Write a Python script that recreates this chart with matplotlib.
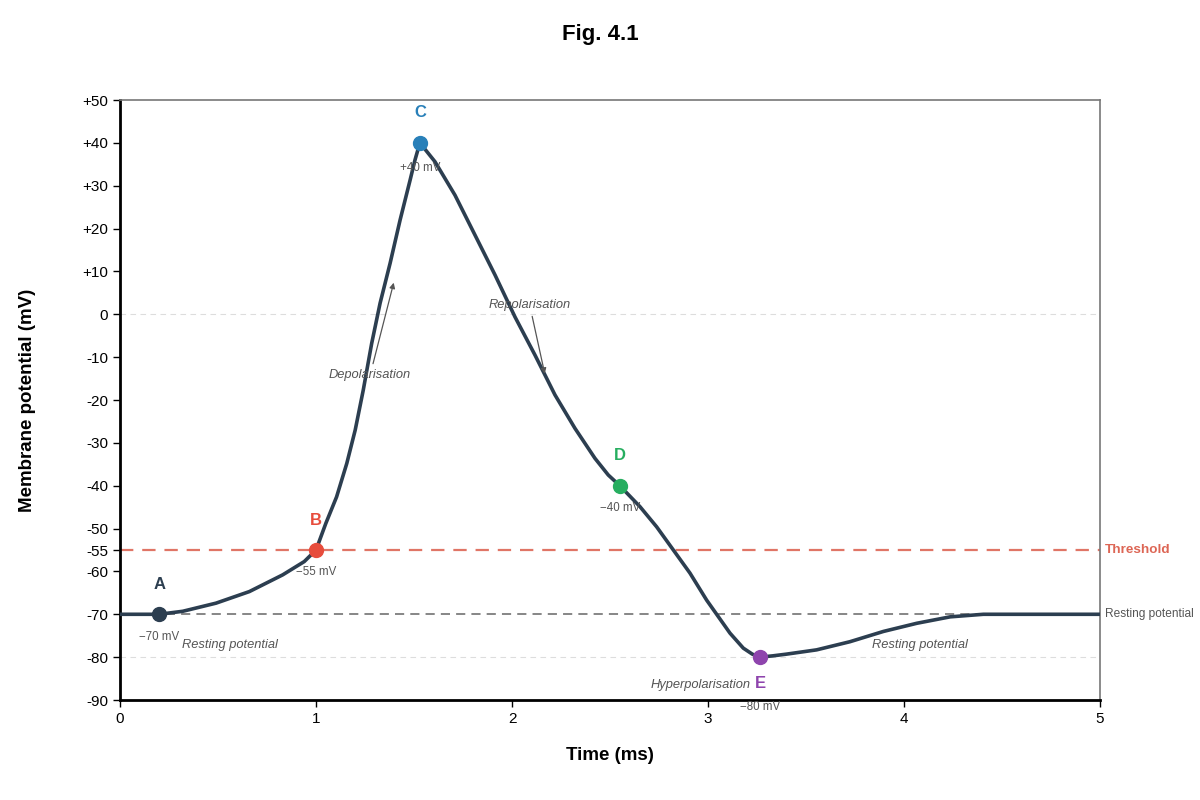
import matplotlib
matplotlib.use('Agg')
from matplotlib import pyplot as plt

plt.rcParams['font.family'] = ['Liberation Sans', 'DejaVu Sans']

# membrane potential trace
time_ms = [0, 0.2, 0.32, 0.49, 0.66, 0.83, 0.94, 1.0, 1.05, 1.105, 1.157, 1.2, 1.241,
           1.284, 1.327, 1.378, 1.429, 1.48, 1.505, 1.53,
           1.607, 1.709, 1.811, 1.913, 2.015, 2.117, 2.219, 2.321, 2.423, 2.491, 2.55,
           2.653, 2.738, 2.823, 2.908, 2.993, 3.044, 3.112, 3.18, 3.226, 3.265,
           3.33, 3.40, 3.554, 3.724, 3.895, 4.065, 4.235, 4.405, 4.6, 5.0]
potential_mv = [-70, -70, -69.3, -67.4, -64.7, -60.8, -57.7, -55, -48.8, -42.6, -34.8, -27, -17.7,
                -6.8, 2.6, 11.9, 22, 31.3, 36, 40,
                35.6, 27.8, 18.5, 9.2, -0.6, -9.5, -18.8, -26.6, -33.6, -37.5, -40,
                -44.9, -49.6, -55, -60.4, -66.7, -70, -74.4, -77.9, -79.3, -80,
                -79.7, -79.3, -78.3, -76.4, -74, -72.1, -70.6, -70, -70, -70]

# key points A-E
point_names = ['A', 'B', 'C', 'D', 'E']
point_t = [0.2, 1.0, 1.53, 2.55, 3.265]
point_v = [-70, -55, 40, -40, -80]
point_labels = ['\u221270 mV', '\u221255 mV', '+40 mV', '\u221240 mV', '\u221280 mV']
point_colors = ['#2c3e50', '#e74c3c', '#2980b9', '#27ae60', '#8e44ad']

threshold = -55
resting = -70

yticks = [50, 40, 30, 20, 10, 0, -10, -20, -30, -40, -50, -55, -60, -70, -80, -90]
ytick_labels = ['+50', '+40', '+30', '+20', '+10', '0', '-10', '-20', '-30', '-40',
                '-50', '-55', '-60', '-70', '-80', '-90']
xticks = [0, 1, 2, 3, 4, 5]

fig = plt.figure(figsize=(12, 8), dpi=100)
ax = fig.add_axes([0.1, 0.125, 0.8167, 0.75])

ax.axhline(0, color='#dddddd', lw=0.8, ls=(0, (5, 4)), zorder=1)
ax.axhline(-80, color='#dddddd', lw=0.8, ls=(0, (5, 4)), zorder=1)
ax.axhline(resting, color='#666666', lw=1.1, ls=(0, (6, 4)), zorder=2)
ax.axhline(threshold, color='#dd6655', lw=1.6, ls=(0, (6, 4)), alpha=0.9, zorder=2)

ax.plot(time_ms, potential_mv, color='#2c3e50', lw=2.6, zorder=3,
        solid_joinstyle='round', solid_capstyle='round')

# (letter offset, value offset) in points
offsets = {'A': (21.5, -16), 'B': (21.5, -16), 'C': (21.5, -18),
           'D': (21.5, -16), 'E': (-19, -36)}
for name, t, v, lab, c in zip(point_names, point_t, point_v, point_labels, point_colors):
    ax.plot(t, v, 'o', color=c, ms=10, zorder=4)
    dy, ly = offsets[name]
    ax.annotate(name, (t, v), xytext=(0, dy), textcoords='offset points',
                ha='center', va='center', color=c, fontsize=12, fontweight='bold')
    ax.annotate(lab, (t, v), xytext=(0, ly), textcoords='offset points',
                ha='center', va='center', color='#555555', fontsize=8.3,
                annotation_clip=False, zorder=6)

ax.annotate('Depolarisation', xy=(1.40, 8), xytext=(1.276, -14.2),
            ha='center', va='center', fontsize=9.3, style='italic', color='#555555',
            arrowprops=dict(arrowstyle='-|>', color='#555555', lw=0.9, mutation_scale=8))
ax.annotate('Repolarisation', xy=(2.17, -14.5), xytext=(2.09, 2.2),
            ha='center', va='center', fontsize=9.3, style='italic', color='#555555',
            arrowprops=dict(arrowstyle='-|>', color='#555555', lw=0.9, mutation_scale=8))
ax.text(0.56, -77.2, 'Resting potential', ha='center', va='center', fontsize=9.3,
        style='italic', color='#555555')
ax.text(4.08, -77.2, 'Resting potential', ha='center', va='center', fontsize=9.3,
        style='italic', color='#555555')
ax.text(2.96, -86.5, 'Hyperpolarisation', ha='center', va='center', fontsize=9.3,
        style='italic', color='#555555')

ax.text(5.025, threshold, 'Threshold', ha='left', va='center', fontsize=9.7,
        fontweight='bold', color='#dd6655')
ax.text(5.025, resting, 'Resting potential', ha='left', va='center', fontsize=8.6,
        color='#555555')

ax.set_xlim(0, 5)
ax.set_ylim(-90, 50)
ax.set_xticks(xticks)
ax.set_yticks(yticks)
ax.set_yticklabels(ytick_labels)
ax.tick_params(labelsize=11, length=5, width=1, colors='black')

for side in ['left', 'bottom']:
    ax.spines[side].set_linewidth(2)
    ax.spines[side].set_color('black')
for side in ['top', 'right']:
    ax.spines[side].set_linewidth(1.2)
    ax.spines[side].set_color('#777777')

ax.set_xlabel('Time (ms)', fontsize=13.5, fontweight='bold', labelpad=15.5)
ax.set_ylabel('Membrane potential (mV)', fontsize=13.5, fontweight='bold', labelpad=33.5)
fig.suptitle('Fig. 4.1', fontsize=16, fontweight='bold', y=0.957, va='center')

fig.savefig('out.png', dpi=100)
